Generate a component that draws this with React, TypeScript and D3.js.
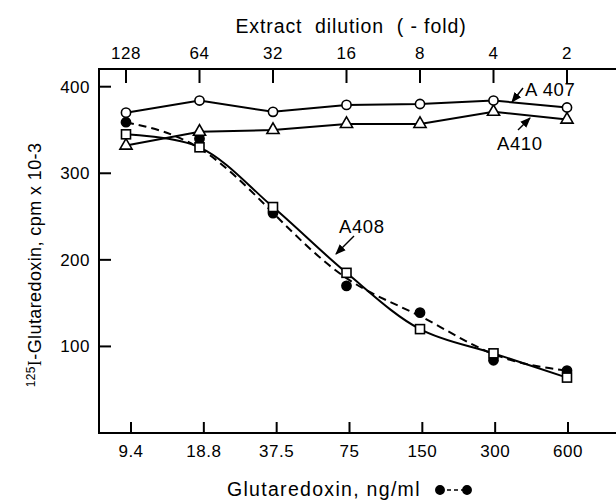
import React from 'react';
import * as d3 from 'd3';

// extract dilutions (top axis) and matching glutaredoxin standard (bottom axis)
const dilutions = [128, 64, 32, 16, 8, 4, 2];
const dilutionLabels = ['128', '64', '32', '16', '8', '4', '2'];
const concentrations = [9.375, 18.75, 37.5, 75, 150, 300, 600];
const concentrationLabels = ['9.4', '18.8', '37.5', '75', '150', '300', '600'];
const yTicks = [100, 200, 300, 400];

// cpm x 10^-3
const a407 = [370, 384, 371, 379, 380, 384, 376];
const a410 = [332, 348, 350, 357, 357, 371, 362];
const a408 = [345, 330, 261, 185, 120, 92, 64];
const standard = [359, 340, 254, 170, 139, 84, 72];

const width = 616;
const height = 502;
const left = 99;
const top = 69;
const bottom = 433;
const font = "'Liberation Sans', Arial, sans-serif";

const App = () => {
  const xTop = d3.scaleLog().base(2).domain([128, 2]).range([126, 567]);
  const xBottom = d3.scaleLog().base(2).domain([9.375, 600]).range([131, 568]);
  const y = d3.scaleLinear().domain([0, 400]).range([bottom, 86.7]);

  const toPoints = (vals: number[]) => vals.map((v, i) => [xTop(dilutions[i]), y(v)] as [number, number]);

  const straight = d3.line();
  const smooth = d3.line().curve(d3.curveCatmullRom.alpha(0.5));
  const fitted = d3.line().curve(d3.curveBasis);

  const triangle = d3.symbol().type(d3.symbolTriangle).size(64)();

  return (
    <svg
      width={width}
      height={height}
      style={{ position: 'absolute', left: 0, top: 0, background: '#fff' }}
      fontFamily={font}
    >
      {/* frame */}
      <g stroke="#000" strokeWidth={2} fill="none">
        <line x1={left} x2={width} y1={top} y2={top} />
        <line x1={left} x2={width} y1={bottom} y2={bottom} />
        <line x1={left} x2={left} y1={top - 1} y2={bottom + 1} />
        {yTicks.map((t) => (
          <line key={t} x1={left} x2={left + 12} y1={y(t)} y2={y(t)} />
        ))}
        {dilutions.map((d) => (
          <line key={d} x1={xTop(d)} x2={xTop(d)} y1={top} y2={top + 14} />
        ))}
        {concentrations.map((c) => (
          <line key={c} x1={xBottom(c)} x2={xBottom(c)} y1={bottom} y2={bottom - 11} />
        ))}
      </g>

      {/* tick labels */}
      <g fontSize={17} fill="#000" letterSpacing={0.5}>
        {yTicks.map((t) => (
          <text key={t} x={left - 9} y={y(t)} dy="0.35em" textAnchor="end">
            {t}
          </text>
        ))}
        {dilutions.map((d, i) => (
          <text key={d} x={xTop(d)} y={59} textAnchor="middle">
            {dilutionLabels[i]}
          </text>
        ))}
        {concentrations.map((c, i) => (
          <text key={c} x={xBottom(c)} y={457} textAnchor="middle">
            {concentrationLabels[i]}
          </text>
        ))}
      </g>

      {/* axis titles */}
      <text x={351} y={33} fontSize={19.5} letterSpacing={0.9} textAnchor="middle" style={{ whiteSpace: 'pre' }}>
        {'Extract  dilution  ( - fold)'}
      </text>
      <text x={227} y={496} fontSize={19.5} letterSpacing={1.3}>
        Glutaredoxin, ng/ml
      </text>
      <g stroke="#000" strokeWidth={1.5}>
        <line x1={440} x2={467} y1={490} y2={490} strokeDasharray="4 3" />
        <circle cx={440} cy={490} r={4.2} fill="#000" />
        <circle cx={467} cy={490} r={4.2} fill="#000" />
      </g>
      <text transform="translate(41,265) rotate(-90)" fontSize={18} letterSpacing={0.4} textAnchor="middle">
        <tspan fontSize={12} dy={-6}>125</tspan>
        <tspan dy={6} fontFamily="'Liberation Serif', serif">I</tspan>
        <tspan>-Glutaredoxin, cpm x 10-3</tspan>
      </text>

      {/* curves */}
      <g fill="none" stroke="#000" strokeWidth={2}>
        <path d={straight(toPoints(a407)) ?? ''} />
        <path d={straight(toPoints(a410)) ?? ''} />
        <path d={smooth(toPoints(a408)) ?? ''} />
        <path d={fitted(toPoints(standard)) ?? ''} strokeDasharray="8 5" />
      </g>

      {/* markers */}
      <g stroke="#000" strokeWidth={1.6}>
        {toPoints(standard).map(([px, py], i) => (
          <circle key={'s' + i} cx={px} cy={py} r={4.6} fill="#000" />
        ))}
        {toPoints(a410).map(([px, py], i) => (
          <path key={'t' + i} d={triangle ?? ''} transform={`translate(${px},${py})`} fill="#fff" />
        ))}
        {toPoints(a407).map(([px, py], i) => (
          <circle key={'c' + i} cx={px} cy={py} r={4.6} fill="#fff" />
        ))}
        {toPoints(a408).map(([px, py], i) => (
          <rect key={'q' + i} x={px - 4.5} y={py - 4.5} width={9} height={9} fill="#fff" />
        ))}
      </g>

      {/* series labels with arrows */}
      <defs>
        <marker id="arrow" viewBox="0 0 10 10" refX={9} refY={5} markerWidth={7} markerHeight={7} orient="auto">
          <path d="M0,1 L10,5 L0,9 Z" fill="#000" />
        </marker>
      </defs>
      <g fontSize={18.5} fill="#000" letterSpacing={0.6}>
        <text x={525} y={96}>A 407</text>
        <text x={497} y={150}>A410</text>
        <text x={339} y={233}>A408</text>
      </g>
      <g stroke="#000" strokeWidth={1.5}>
        <line x1={523} y1={88} x2={512} y2={102} markerEnd="url(#arrow)" />
        <line x1={518} y1={130} x2={530} y2={118} markerEnd="url(#arrow)" />
        <line x1={354} y1={236} x2={336} y2={254} markerEnd="url(#arrow)" />
      </g>
    </svg>
  );
};

export default App;
